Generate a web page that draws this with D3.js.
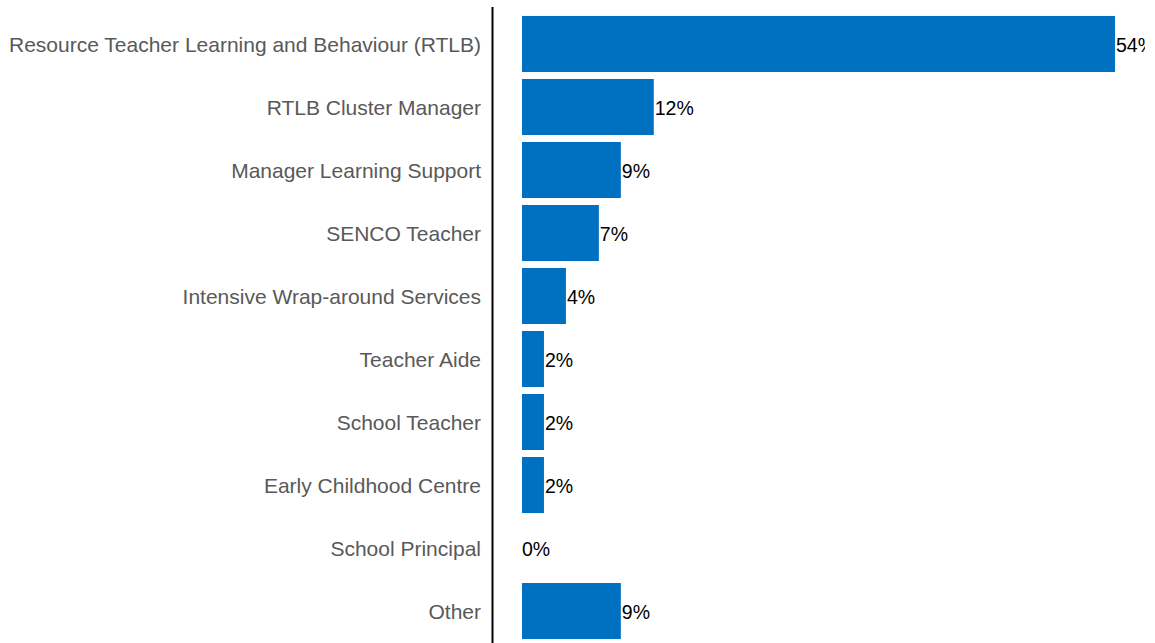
<!DOCTYPE html>
<html>
<head>
<meta charset="utf-8">
<script src="https://cdn.jsdelivr.net/npm/d3@7"></script>
<style>
  html, body { margin: 0; padding: 0; background: #fff; }
  svg { display: block; }
</style>
</head>
<body>
<svg id="chart" width="1155" height="643"></svg>
<script>
// Roles of respondents (share of responses, %)
const categories = [
  "Resource Teacher Learning and Behaviour (RTLB)",
  "RTLB Cluster Manager",
  "Manager Learning Support",
  "SENCO Teacher",
  "Intensive Wrap-around Services",
  "Teacher Aide",
  "School Teacher",
  "Early Childhood Centre",
  "School Principal",
  "Other"
];
const values = [54, 12, 9, 7, 4, 2, 2, 2, 0, 9];

const svg = d3.select("#chart");
const width = 1155, height = 643;

const x = d3.scaleLinear().domain([0, 54]).range([522, 1115]);
const y = d3.scaleBand()
  .domain(categories)
  .range([12.5, 642.5])
  .paddingInner(0.111)
  .paddingOuter(0.055);

// Plot area clip (labels past the right edge are cut)
svg.append("defs").append("clipPath").attr("id", "plot-clip")
  .append("rect").attr("x", 0).attr("y", 0).attr("width", 1145).attr("height", height);

// Bars
svg.append("g")
  .selectAll("rect")
  .data(values)
  .join("rect")
  .attr("x", x(0))
  .attr("y", (d, i) => y(categories[i]))
  .attr("width", d => x(d) - x(0))
  .attr("height", y.bandwidth())
  .attr("fill", "#0070C0");

// Value labels
svg.append("g")
  .attr("clip-path", "url(#plot-clip)")
  .selectAll("text")
  .data(values)
  .join("text")
  .attr("x", d => x(d) + (d === 0 ? 0 : 1))
  .attr("y", (d, i) => y(categories[i]) + y.bandwidth() / 2 + 1.5)
  .attr("dy", "0.35em")
  .attr("font-family", "Liberation Sans, Arial, sans-serif")
  .attr("font-size", 19.5)
  .attr("fill", "#000")
  .text(d => d + "%");

// Category axis
const axis = d3.axisLeft(y).tickSize(0).tickPadding(11);
const g = svg.append("g")
  .attr("transform", "translate(492,1.5)")
  .call(axis);
g.select(".domain").remove();
g.selectAll("text")
  .attr("font-family", "Liberation Sans, Arial, sans-serif")
  .attr("font-size", 21)
  .attr("fill", "#595959");

// Vertical axis line
svg.append("line")
  .attr("x1", 492.5).attr("x2", 492.5)
  .attr("y1", 7).attr("y2", height)
  .attr("stroke", "#000")
  .attr("stroke-width", 2);
</script>
</body>
</html>
